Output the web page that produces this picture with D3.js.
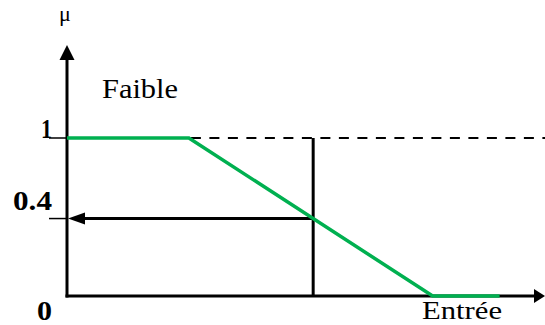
<!DOCTYPE html>
<html>
  <head>
    <meta charset="utf-8">
    <style>
      body { margin: 0; background: #fff; }
      svg { display: block; }
      text { font-family: 'Liberation Serif', Times, serif; }
    </style>
  </head>
  <body>
    <script src="https://d3js.org/d3.v7.min.js"></script>
    <script>
      // membership function "Faible" (input 0..100)
      const inputBreaks = [0, 25.5, 76.5, 90.5];
      const faibleMu = [1, 1, 0, 0];
      const inputValue = 51.5;
      const yTickLabels = ['1', '0.4', '0'];
      const setLabel = 'Faible';
      const xLabel = 'Entrée';
      const yLabel = 'μ';

      const width = 545, height = 325;
      const green = '#00b050';

      const svg = d3.select('body').append('svg')
        .attr('width', width)
        .attr('height', height);

      const x = d3.scaleLinear().domain([0, 100]).range([67, 545]);
      const y = d3.scaleLinear().domain([0, 1]).range([296, 138]);
      const mu = d3.scaleLinear().domain(inputBreaks).range(faibleMu).clamp(true);
      const muInput = mu(inputValue);
      const tickValues = [1, muInput, 0];

      // axes
      const yTop = 45;
      svg.append('line')
        .attr('x1', x(0)).attr('x2', x(0))
        .attr('y1', y(0) + 1.5).attr('y2', yTop + 10)
        .attr('stroke', '#000').attr('stroke-width', 3);
      svg.append('path')
        .attr('d', `M${x(0)},${yTop} L${x(0) - 7.5},${yTop + 15} L${x(0) + 7.5},${yTop + 15} Z`)
        .attr('fill', '#000');
      svg.append('line')
        .attr('x1', x(0) - 1.5).attr('x2', x(100) - 8)
        .attr('y1', y(0)).attr('y2', y(0))
        .attr('stroke', '#000').attr('stroke-width', 3);
      svg.append('path')
        .attr('d', `M${x(100)},${y(0)} L${x(100) - 11},${y(0) - 7} L${x(100) - 11},${y(0) + 7} Z`)
        .attr('fill', '#000');

      // tick stubs
      svg.selectAll('line.stub')
        .data(tickValues.slice(0, 2))
        .join('line')
        .attr('class', 'stub')
        .attr('x1', 49).attr('x2', x(0))
        .attr('y1', d => y(d)).attr('y2', d => y(d))
        .attr('stroke', '#000').attr('stroke-width', 1.5);

      // dashed line at mu = 1
      svg.append('line')
        .attr('x1', x(inputBreaks[1]) + 2).attr('x2', x(100))
        .attr('y1', y(1)).attr('y2', y(1))
        .attr('stroke', '#000').attr('stroke-width', 2)
        .attr('stroke-dasharray', '10,8.5');

      // vertical line at input value
      svg.append('line')
        .attr('x1', x(inputValue)).attr('x2', x(inputValue))
        .attr('y1', y(1)).attr('y2', y(0))
        .attr('stroke', '#000').attr('stroke-width', 3);

      // horizontal arrow to the mu axis
      svg.append('line')
        .attr('x1', x(inputValue)).attr('x2', x(0) + 14)
        .attr('y1', y(muInput)).attr('y2', y(muInput))
        .attr('stroke', '#000').attr('stroke-width', 3);
      svg.append('path')
        .attr('d', `M${x(0) + 1},${y(muInput)} L${x(0) + 18},${y(muInput) - 6} L${x(0) + 18},${y(muInput) + 6} Z`)
        .attr('fill', '#000');

      // membership function
      svg.append('path')
        .datum(inputBreaks.map((v, i) => [v, faibleMu[i]]))
        .attr('d', d3.line().x(d => x(d[0])).y(d => y(d[1])))
        .attr('fill', 'none')
        .attr('stroke', green)
        .attr('stroke-width', 3.5);

      // tick labels
      const labelOffsets = [0, -9, 24];
      const labelWidths = [11, 39, 15];
      svg.selectAll('text.tick')
        .data(tickValues)
        .join('text')
        .attr('class', 'tick')
        .attr('x', (d, i) => 52 - labelWidths[i])
        .attr('y', (d, i) => y(d) + labelOffsets[i])
        .attr('textLength', (d, i) => labelWidths[i])
        .attr('lengthAdjust', 'spacingAndGlyphs')
        .attr('font-weight', 'bold')
        .attr('font-size', 27)
        .text((d, i) => yTickLabels[i]);

      svg.append('text')
        .attr('x', 102).attr('y', 98)
        .attr('textLength', 76)
        .attr('lengthAdjust', 'spacingAndGlyphs')
        .attr('font-size', 27)
        .text(setLabel);

      svg.append('text')
        .attr('x', 422).attr('y', 319)
        .attr('textLength', 80)
        .attr('lengthAdjust', 'spacingAndGlyphs')
        .attr('font-size', 25)
        .text(xLabel);

      svg.append('text')
        .attr('x', x(0) - 2).attr('y', 21)
        .attr('text-anchor', 'middle')
        .attr('font-size', 22)
        .text(yLabel);
    </script>
  </body>
</html>
